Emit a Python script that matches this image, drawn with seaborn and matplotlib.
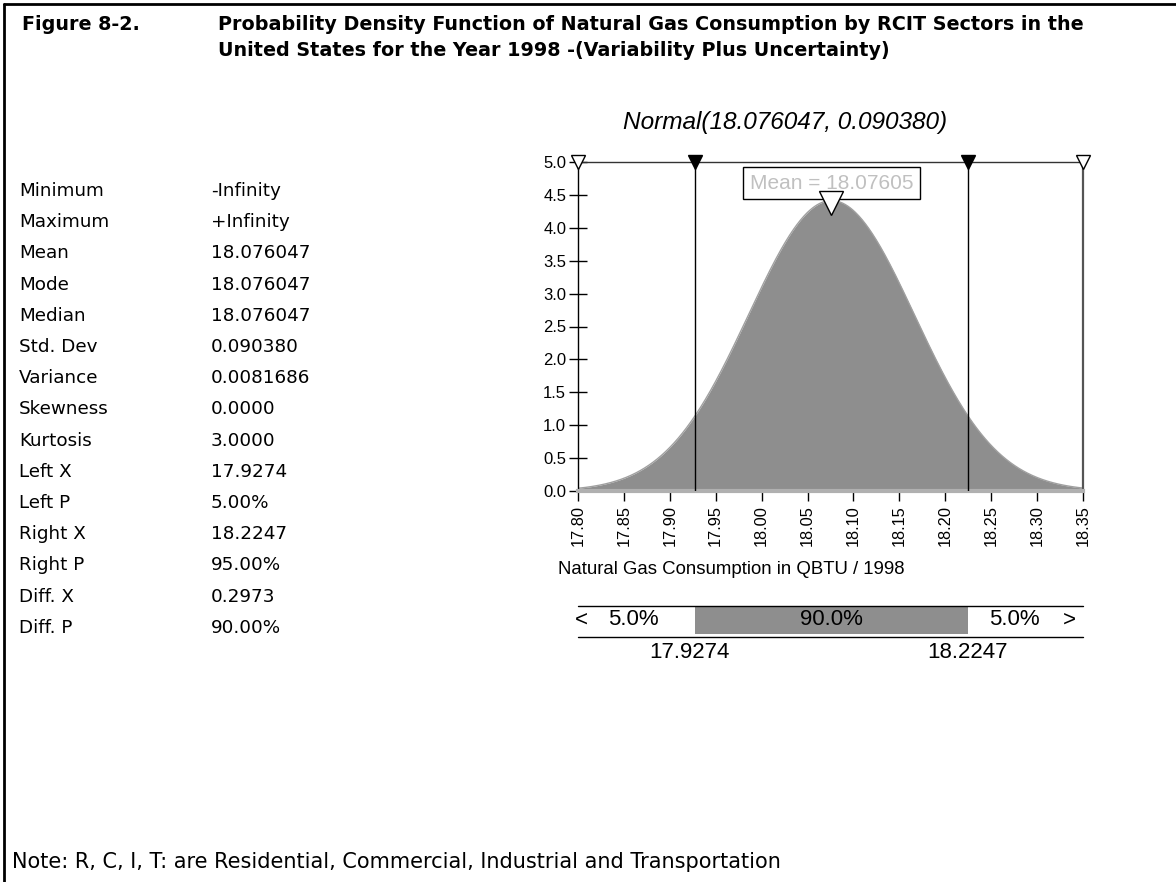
import numpy as np
import pandas as pd
import seaborn as sns
import matplotlib
matplotlib.use('Agg')
import matplotlib.pyplot as plt
from matplotlib import font_manager as fm

# values
STAT_LABELS = ['Minimum', 'Maximum', 'Mean', 'Mode', 'Median', 'Std. Dev', 'Variance',
               'Skewness', 'Kurtosis', 'Left X', 'Left P', 'Right X', 'Right P',
               'Diff. X', 'Diff. P']
STAT_VALUES = ['-Infinity', '+Infinity', '18.076047', '18.076047', '18.076047', '0.090380',
               '0.0081686', '0.0000', '3.0000', '17.9274', '5.00%', '18.2247', '95.00%',
               '0.2973', '90.00%']
DIST_MEAN = 18.076047
DIST_STD = 0.090380
LEFT_X = 17.9274
RIGHT_X = 18.2247
BAND_LABELS = ['5.0%', '90.0%', '5.0%']
X_TICKS = [17.80, 17.85, 17.90, 17.95, 18.00, 18.05, 18.10, 18.15, 18.20, 18.25, 18.30, 18.35]
Y_TICKS = [0.0, 0.5, 1.0, 1.5, 2.0, 2.5, 3.0, 3.5, 4.0, 4.5, 5.0]

TITLE_1 = 'Probability Density Function of Natural Gas Consumption by RCIT Sectors in the'
TITLE_2 = 'United States for the Year 1998 -(Variability Plus Uncertainty)'
NOTE = 'Note: R, C, I, T: are Residential, Commercial, Industrial and Transportation'
GREY = '#8e8e8e'


def pick(names):
    # first installed family of the list
    for n in names:
        try:
            fm.findfont(fm.FontProperties(family=n), fallback_to_default=False)
            return n, n.endswith('Narrow')
        except ValueError:
            pass
    return 'DejaVu Sans', False


sns.set_theme(style='white')
plt.rcParams['font.family'] = ['DejaVu Sans']
plt.rcParams['text.color'] = 'black'
plt.rcParams['xtick.color'] = 'black'
plt.rcParams['ytick.color'] = 'black'
NARROW, is_narrow = pick(['Liberation Sans Narrow', 'Liberation Sans'])
k = 1.18 if is_narrow else 1.0

W, H = 1176, 882
fig = plt.figure(figsize=(W / 100, H / 100), dpi=100)


def fx(px):
    return px / W


def fy(py):
    return 1 - py / H


# frame (top and left only)
fig.add_artist(plt.Line2D([fx(4), fx(4)], [0, fy(4)], color='black', lw=2))
fig.add_artist(plt.Line2D([fx(4), 1], [fy(4), fy(4)], color='black', lw=2))

fig.text(fx(22), fy(25), 'Figure 8-2.', fontsize=13.8, fontweight='bold', va='center')
fig.text(fx(218), fy(25), TITLE_1, fontsize=13.8, fontweight='bold', va='center')
fig.text(fx(218), fy(50), TITLE_2, fontsize=13.8, fontweight='bold', va='center')

for i, (lab, val) in enumerate(zip(STAT_LABELS, STAT_VALUES)):
    y = 191 + i * 31.2
    fig.text(fx(19), fy(y), lab, fontsize=13.2, va='center')
    fig.text(fx(211), fy(y), val, fontsize=13.2, va='center')

fig.text(fx(12), fy(862), NOTE, fontsize=15, va='center')

# density plot
ax = fig.add_axes([fx(578), fy(491), (1083 - 578) / W, (491 - 162) / H])
xs = np.linspace(X_TICKS[0], X_TICKS[-1], 600)
dens = np.exp(-0.5 * ((xs - DIST_MEAN) / DIST_STD) ** 2) / (DIST_STD * np.sqrt(2 * np.pi))
df = pd.DataFrame({'x': xs, 'density': dens})
sns.lineplot(data=df, x='x', y='density', ax=ax, color='#a0a0a0', lw=1)
ax.fill_between(df['x'], 0, df['density'], color=GREY, lw=0)
ax.set_xlim(X_TICKS[0], X_TICKS[-1])
ax.set_ylim(Y_TICKS[0], Y_TICKS[-1])
ax.set_xlabel('')
ax.set_ylabel('')

ax.spines['left'].set(color='black', lw=1)
ax.spines['top'].set(color='#333333', lw=1)
ax.spines['right'].set(color='#555555', lw=1.6)
ax.spines['bottom'].set(color='#b0b0b0', lw=3)

ax.set_xticks(X_TICKS, labels=[f'{v:.2f}' for v in X_TICKS])
ax.set_yticks(Y_TICKS, labels=[f'{v:.1f}' for v in Y_TICKS])
ax.tick_params(axis='x', direction='out', length=7, width=1, color='black', pad=3,
               labelrotation=90, labelsize=11.8 * k, bottom=True)
ax.tick_params(axis='y', direction='inout', length=13, width=1, color='black', pad=2,
               labelsize=12 * k, left=True)
for t in ax.get_xticklabels() + ax.get_yticklabels():
    t.set_family(NARROW)

for xv in (LEFT_X, RIGHT_X):
    ax.axvline(xv, color='black', lw=1, zorder=3)
ax.plot([X_TICKS[0], X_TICKS[-1]], [Y_TICKS[-1]] * 2, 'v', ms=10.5, mfc='white', mec='black',
        mew=1, clip_on=False, zorder=6)
ax.plot([LEFT_X, RIGHT_X], [Y_TICKS[-1]] * 2, 'v', ms=10.5, mfc='black', mec='black',
        clip_on=False, zorder=6)

ax.text(DIST_MEAN, 4.68, f'Mean = {DIST_MEAN:.5f}', ha='center', va='center',
        family=NARROW, fontsize=15 * k, color='#c0c0c0', zorder=5,
        bbox=dict(boxstyle='square,pad=0.33', fc='white', ec='black', lw=1))
ax.plot([DIST_MEAN], [4.37], 'v', ms=17, mfc='white', mec='black', mew=1, zorder=7)

fig.text(fx(785), fy(123), f'Normal({DIST_MEAN:.6f}, {DIST_STD:.6f})', ha='center',
         va='center', family=NARROW, style='italic', fontsize=17.6 * k)
fig.text(fx(558), fy(569), 'Natural Gas Consumption in QBTU / 1998', ha='left',
         va='center', family=NARROW, fontsize=13.4 * k)

# probability band below the plot
bax = fig.add_axes([fx(578), fy(637), (1083 - 578) / W, 31 / H])
bax.set_xlim(X_TICKS[0], X_TICKS[-1])
bax.set_ylim(0, 1)
bax.axis('off')
bax.axhline(1, color='black', lw=1, clip_on=False)
bax.axhline(0, color='black', lw=1, clip_on=False)
bax.axvspan(LEFT_X, RIGHT_X, ymin=0.1, ymax=1, color=GREY, lw=0)
tr = bax.get_xaxis_transform()
band_font = dict(family=NARROW, fontsize=16 * k, va='center')
bax.text(-0.006, 0.55, '<', transform=bax.transAxes, ha='left', **band_font)
bax.text(0.059, 0.55, BAND_LABELS[0], transform=bax.transAxes, ha='left', **band_font)
bax.text((LEFT_X + RIGHT_X) / 2, 0.55, BAND_LABELS[1], transform=tr, ha='center', **band_font)
bax.text(0.915, 0.55, BAND_LABELS[2], transform=bax.transAxes, ha='right', **band_font)
bax.text(0.986, 0.55, '>', transform=bax.transAxes, ha='right', **band_font)
bax.text(LEFT_X - 0.006, -0.5, f'{LEFT_X:.4f}', transform=tr, ha='center', **band_font)
bax.text(RIGHT_X, -0.5, f'{RIGHT_X:.4f}', transform=tr, ha='center', **band_font)

fig.savefig('out.png', dpi=100, facecolor='white')
